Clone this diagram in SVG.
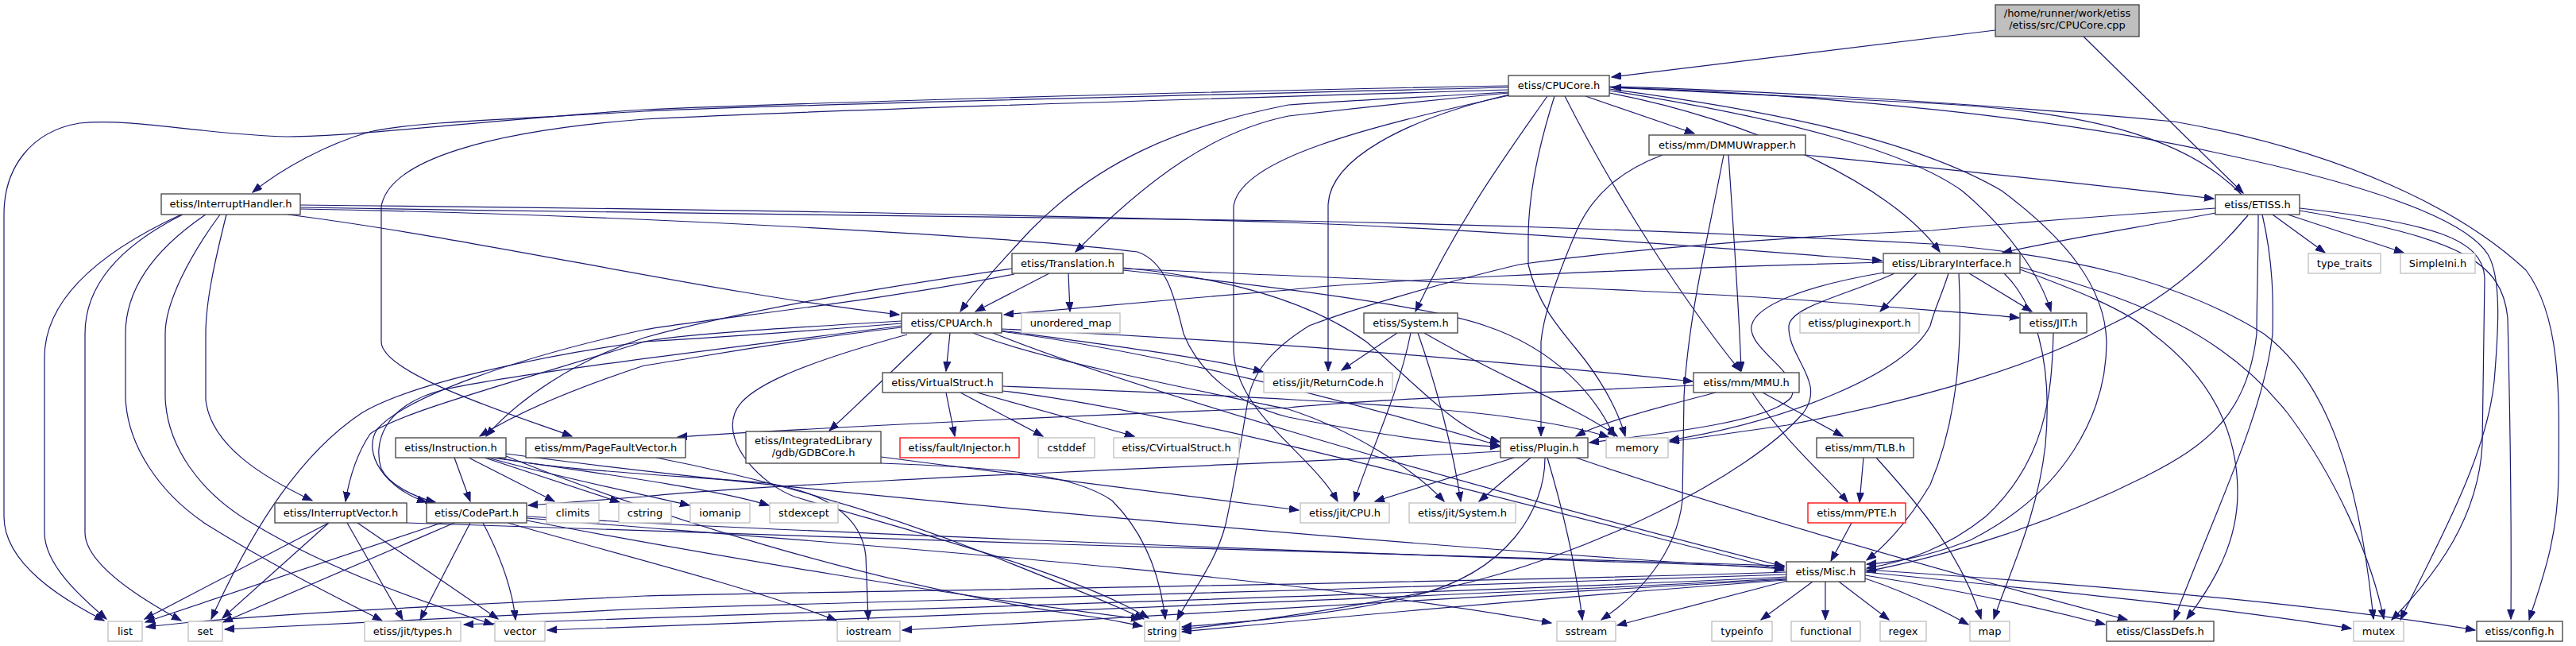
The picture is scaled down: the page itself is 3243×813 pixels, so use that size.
<svg xmlns="http://www.w3.org/2000/svg" width="3243" height="813" viewBox="0 0 3243 813">
<style>
.e{fill:none;stroke:#191970;stroke-width:1.2;marker-end:url(#a)}
.n rect{fill:#fff;stroke:#404040;stroke-width:1.3}
.g rect{fill:#fff;stroke:#bfbfbf;stroke-width:1.3}
.r rect{fill:#fff;stroke:#ff0000;stroke-width:1.3}
.s rect{fill:#bfbfbf;stroke:#404040;stroke-width:1.3}
text{font-family:"DejaVu Sans","Liberation Sans",sans-serif;font-size:13px;text-anchor:middle;fill:#000}
</style>
<defs>
<marker id="a" viewBox="0 0 13 10" markerWidth="13" markerHeight="10" refX="12" refY="4.5" orient="auto" markerUnits="userSpaceOnUse">
<path d="M0,0 L12,4.5 L0,9 z" fill="#191970" stroke="#191970" stroke-width="1"/>
</marker>
</defs>
<rect width="3243" height="813" fill="#fff"/>
<g id="edges">
<path class="e" d="M2512,38 L2029,97"/>
<path class="e" d="M2623,46 L2824,243"/>
<path class="e" d="M2822,245 C2750,170 2620,140 2432,130 C2250,120 2100,113 2029,110"/>
<path class="e" d="M1899,108 C1500,115 1000,130 811,138 C600,152 450,172 362,172 C260,170 170,148 100,155 C40,165 5,210 5,270 L5,650 C5,710 80,755 131,781"/>
<path class="e" d="M1899,110 C1500,120 1000,131 811,140 C650,150 520,153 465,166 C410,182 355,212 318,242"/>
<path class="e" d="M1899,113 C1500,125 1050,138 811,150 C620,165 490,200 480,260 L480,430 C480,470 640,520 720,549"/>
<path class="e" d="M1899,116 C1800,122 1700,126 1622,132 C1480,160 1380,205 1297,290 C1260,330 1228,365 1209,392"/>
<path class="e" d="M1899,117 C1780,128 1690,138 1622,146 C1530,165 1450,220 1354,317"/>
<path class="e" d="M1900,119 C1770,150 1672,200 1672,260 L1672,467"/>
<path class="e" d="M1900,120 C1720,160 1560,200 1553,260 L1553,440 C1555,520 1650,570 1684,631"/>
<path class="e" d="M1948,121 C1900,190 1840,270 1782,392"/>
<path class="e" d="M1957,121 C1935,190 1924,250 1924,300 L1924,333 C1935,380 1960,410 1985,440 C2010,470 2035,510 2046,549"/>
<path class="e" d="M1970,121 C2030,240 2120,380 2191,467"/>
<path class="e" d="M1996,121 L2133,168"/>
<path class="e" d="M2026,117 C2200,150 2380,230 2442,317"/>
<path class="e" d="M2026,114 C2250,150 2400,190 2470,240 C2530,290 2570,350 2582,392"/>
<path class="e" d="M2026,112 C2200,135 2400,170 2520,240 C2600,300 2650,360 2652,430 C2652,520 2600,620 2480,680 C2420,703 2380,708 2350,710"/>
<path class="e" d="M2026,109 C2300,116 2600,140 2737,153 C2950,190 3100,265 3180,340 C3225,400 3222,500 3221,600 C3220,680 3200,730 3184,780"/>
<path class="e" d="M2026,110 C2300,118 2600,150 2794,193 C2960,228 3100,270 3132,320 C3150,350 3145,420 3140,480 C3130,580 3060,700 3022,780"/>
<path class="e" d="M2273,195 C2400,208 2600,228 2787,250"/>
<path class="e" d="M2093,195 C2040,215 2005,245 1985,290 C1955,360 1943,400 1940,430 L1940,549"/>
<path class="e" d="M2170,195 C2150,300 2125,400 2120,500 L2118,630 C2110,700 2060,750 2016,780"/>
<path class="e" d="M2176,195 C2183,300 2190,400 2192,467"/>
<path class="e" d="M2789,268 C2700,285 2600,300 2521,318"/>
<path class="e" d="M2861,270 L2927,318"/>
<path class="e" d="M2880,270 L3026,318"/>
<path class="e" d="M2789,262 C2600,275 2450,288 2433,290 C2200,300 2000,320 1912,333 C1800,360 1700,390 1648,410 C1600,440 1575,470 1570,510 C1560,570 1552,620 1543,660 C1530,710 1500,745 1482,780"/>
<path class="e" d="M2830,271 C2780,330 2720,380 2654,410 C2560,460 2430,500 2250,535 C2180,545 2130,552 2102,556"/>
<path class="e" d="M2843,270 C2843,330 2841,380 2841,420 C2830,520 2780,560 2700,600 C2580,660 2450,700 2350,719"/>
<path class="e" d="M2848,270 C2862,330 2862,380 2861,420 C2850,520 2790,640 2737,780"/>
<path class="e" d="M2895,262 C3060,280 3126,300 3128,350 L3125,560 C3120,650 3070,720 3011,780"/>
<path class="e" d="M2895,265 C3100,300 3150,330 3157,400 C3160,520 3162,650 3161,779"/>
<path class="e" d="M2371,330 C2000,340 1700,355 1622,365 C1500,375 1350,388 1264,396"/>
<path class="e" d="M2372,343 C2270,360 2210,385 2205,410 C2200,440 2270,470 2255,500 C2230,530 2100,545 2001,557"/>
<path class="e" d="M2385,344 C2330,370 2255,385 2252,410 C2250,450 2300,480 2270,520 C2200,600 2000,700 1820,740 C1700,765 1600,780 1488,792"/>
<path class="e" d="M2413,344 L2367,392"/>
<path class="e" d="M2479,344 L2558,392"/>
<path class="e" d="M2453,344 C2445,370 2435,390 2430,410 C2400,470 2250,530 2102,554"/>
<path class="e" d="M2466,344 C2470,420 2468,520 2430,610 C2400,660 2370,690 2350,705"/>
<path class="e" d="M2523,344 C2560,380 2585,450 2575,560 C2565,650 2530,720 2510,779"/>
<path class="e" d="M2543,339 C2600,360 2680,390 2710,420 C2790,480 2817,550 2817,620 C2817,680 2790,730 2753,779"/>
<path class="e" d="M2543,336 C2700,380 2800,420 2880,520 C2940,600 2985,700 3001,779"/>
<path class="e" d="M2585,419 C2583,500 2575,580 2500,650 C2450,690 2400,707 2350,715"/>
<path class="e" d="M1321,344 L1228,392"/>
<path class="e" d="M1345,344 L1347,392"/>
<path class="e" d="M1274,338 C1050,370 900,400 811,425 C720,455 650,505 612,549"/>
<path class="e" d="M1277,345 C1100,380 900,400 811,415 C650,450 510,500 475,540 C455,570 485,615 537,632"/>
<path class="e" d="M1414,337 C1550,350 1650,380 1720,430 C1780,480 1830,540 1888,556"/>
<path class="e" d="M1414,338 C1800,355 2139,367 2300,380 C2420,390 2500,395 2542,400"/>
<path class="e" d="M1414,340 C1600,360 1800,385 1870,410 C1960,440 2010,500 2032,549"/>
<path class="e" d="M1135,404 C950,415 850,422 811,430 C650,480 500,520 466,546 C450,570 440,600 435,631"/>
<path class="e" d="M1135,410 C900,440 650,470 560,490 C480,510 470,560 480,590 C490,610 520,625 548,632"/>
<path class="e" d="M1135,412 C980,430 880,450 811,460 C720,490 650,520 604,549"/>
<path class="e" d="M1135,407 C1000,418 900,425 811,430 C700,445 520,480 455,520 C380,570 320,660 266,779"/>
<path class="e" d="M1173,419 C1130,460 1090,500 1044,542"/>
<path class="e" d="M1196,419 L1191,467"/>
<path class="e" d="M1142,421 C1000,460 935,490 925,520 C910,560 960,610 1000,625 C1150,670 1350,720 1446,778"/>
<path class="e" d="M1261,416 C1400,435 1520,450 1590,468"/>
<path class="e" d="M1261,414 C1500,425 1800,445 2131,480"/>
<path class="e" d="M1261,417 C1500,450 1750,520 1888,561"/>
<path class="e" d="M1225,419 C1300,450 1500,490 1622,515 C1700,540 1780,590 1818,631"/>
<path class="e" d="M1250,419 C1400,480 1800,600 2246,713"/>
<path class="e" d="M1191,494 L1202,549"/>
<path class="e" d="M1209,494 L1313,549"/>
<path class="e" d="M1230,494 L1428,549"/>
<path class="e" d="M1262,486 C1500,495 1800,510 1900,525 C1960,533 2000,542 2025,550"/>
<path class="e" d="M1262,492 C1500,520 1900,630 2246,718"/>
<path class="e" d="M1109,583 C1250,588 1350,595 1400,630 C1440,670 1460,720 1467,779"/>
<path class="e" d="M1109,575 C1300,600 1500,625 1635,642"/>
<path class="e" d="M572,576 L592,631"/>
<path class="e" d="M590,576 L698,631"/>
<path class="e" d="M610,576 L780,632"/>
<path class="e" d="M614,576 C700,600 800,620 868,636"/>
<path class="e" d="M620,576 C750,595 900,615 968,636"/>
<path class="e" d="M627,576 C700,592 850,598 966,608 C1040,620 1085,650 1090,700 L1093,780"/>
<path class="e" d="M637,574 C800,640 1100,740 1380,777 C1400,780 1420,785 1438,788"/>
<path class="e" d="M637,571 C1000,620 1800,690 2246,716"/>
<path class="e" d="M826,576 C950,600 1100,640 1250,700 C1350,740 1400,760 1440,779"/>
<path class="e" d="M2132,485 C1900,495 1700,505 1622,513 C1300,525 1000,540 853,550"/>
<path class="e" d="M2160,494 C2080,515 2020,530 1984,549"/>
<path class="e" d="M2206,494 C2250,560 2300,600 2326,632"/>
<path class="e" d="M2219,494 L2320,549"/>
<path class="e" d="M2346,576 L2341,632"/>
<path class="e" d="M2362,576 C2420,640 2470,700 2494,779"/>
<path class="e" d="M2331,658 L2305,706"/>
<path class="e" d="M1759,419 L1689,466"/>
<path class="e" d="M1776,419 C1760,500 1720,580 1705,631"/>
<path class="e" d="M1785,419 C1810,490 1830,570 1839,631"/>
<path class="e" d="M1793,419 C1880,470 1980,510 2036,549"/>
<path class="e" d="M1906,576 L1731,631"/>
<path class="e" d="M1927,576 L1862,631"/>
<path class="e" d="M1945,576 C1945,640 1900,720 1780,750 C1700,770 1600,780 1488,789"/>
<path class="e" d="M1948,576 C1970,650 1985,720 1992,780"/>
<path class="e" d="M1984,576 C2200,650 2450,720 2678,780"/>
<path class="e" d="M1889,568 C1700,580 1000,605 811,625 C750,630 700,633 665,636"/>
<path class="e" d="M228,270 C120,320 56,380 56,450 L56,670 C56,710 100,750 134,779"/>
<path class="e" d="M230,270 C150,310 107,360 107,420 L107,670 C107,710 180,755 228,781"/>
<path class="e" d="M259,270 C200,310 158,360 158,420 L158,500 C160,560 200,620 260,660 C340,710 420,750 481,781"/>
<path class="e" d="M277,270 C240,320 208,380 208,420 L208,500 C210,560 250,620 320,660 C420,720 540,760 621,786"/>
<path class="e" d="M285,270 C270,330 259,380 259,420 L259,503 C265,560 330,600 393,630"/>
<path class="e" d="M362,270 C600,300 900,370 1132,396"/>
<path class="e" d="M378,258 C800,262 1300,270 1622,280 C1900,290 2200,315 2369,328"/>
<path class="e" d="M378,261 C900,270 1500,276 1622,278 C2000,285 2300,300 2432,307 C2600,320 2742,353 2850,420 C2930,480 2970,600 2988,779"/>
<path class="e" d="M378,263 C800,270 1300,300 1432,317 C1470,330 1480,380 1490,420 C1510,470 1560,510 1622,525 C1750,550 1830,560 1888,562"/>
<path class="e" d="M414,658 L182,779"/>
<path class="e" d="M414,658 L280,778"/>
<path class="e" d="M437,658 L507,780"/>
<path class="e" d="M450,658 L627,779"/>
<path class="e" d="M512,658 C1000,675 1800,700 2246,712"/>
<path class="e" d="M556,658 L183,783"/>
<path class="e" d="M572,658 L281,783"/>
<path class="e" d="M592,658 L529,780"/>
<path class="e" d="M608,658 C630,700 645,740 649,780"/>
<path class="e" d="M639,658 C750,690 950,740 1053,781"/>
<path class="e" d="M663,655 C900,700 1200,750 1436,779"/>
<path class="e" d="M663,652 C1000,680 1600,720 1953,784"/>
<path class="e" d="M663,650 C1000,670 1800,700 2246,714"/>
<path class="e" d="M2249,720 C1800,735 1000,745 811,750 C500,765 300,775 184,789"/>
<path class="e" d="M2249,723 C1800,740 1000,760 811,766 C600,775 400,785 283,792"/>
<path class="e" d="M2249,726 C1800,748 1000,770 584,786"/>
<path class="e" d="M2249,728 C1800,752 1100,778 689,793"/>
<path class="e" d="M2249,729 C1900,748 1500,773 1136,793"/>
<path class="e" d="M2249,730 C2000,748 1700,775 1488,795"/>
<path class="e" d="M2250,731 L2036,787"/>
<path class="e" d="M2282,732 L2217,780"/>
<path class="e" d="M2298,732 L2298,780"/>
<path class="e" d="M2315,732 L2378,780"/>
<path class="e" d="M2348,728 C2400,745 2440,765 2478,786"/>
<path class="e" d="M2348,724 C2450,740 2550,760 2650,786"/>
<path class="e" d="M2348,720 C2600,745 2800,765 2960,791"/>
<path class="e" d="M2348,717 C2700,740 2950,765 3116,793"/>
</g>
<g id="n_src" class="s"><rect x="2512" y="6" width="181" height="40"/><text x="2602.5" y="21">/home/runner/work/etiss</text><text x="2602.5" y="36">/etiss/src/CPUCore.cpp</text></g>
<g id="n_cpucore" class="n"><rect x="1899" y="95" width="127" height="26"/><text x="1962.5" y="112">etiss/CPUCore.h</text></g>
<g id="n_interrupthandler" class="n"><rect x="203" y="244" width="175" height="26"/><text x="290.5" y="261">etiss/InterruptHandler.h</text></g>
<g id="n_translation" class="n"><rect x="1274" y="319" width="140" height="25"/><text x="1344" y="336">etiss/Translation.h</text></g>
<g id="n_cpuarch" class="n"><rect x="1135" y="394" width="126" height="25"/><text x="1198" y="411">etiss/CPUArch.h</text></g>
<g id="n_unordered_map" class="g"><rect x="1286" y="394" width="124" height="25"/><text x="1348" y="411">unordered_map</text></g>
<g id="n_system" class="n"><rect x="1717" y="394" width="118" height="25"/><text x="1776" y="411">etiss/System.h</text></g>
<g id="n_dmmuwrapper" class="n"><rect x="2076" y="170" width="197" height="25"/><text x="2174.5" y="187">etiss/mm/DMMUWrapper.h</text></g>
<g id="n_etiss" class="n"><rect x="2789" y="245" width="106" height="25"/><text x="2842" y="262">etiss/ETISS.h</text></g>
<g id="n_libraryinterface" class="n"><rect x="2371" y="319" width="172" height="25"/><text x="2457" y="336">etiss/LibraryInterface.h</text></g>
<g id="n_type_traits" class="g"><rect x="2906" y="319" width="91" height="25"/><text x="2951.5" y="336">type_traits</text></g>
<g id="n_simpleini" class="g"><rect x="3022" y="319" width="94" height="25"/><text x="3069" y="336">SimpleIni.h</text></g>
<g id="n_pluginexport" class="g"><rect x="2266" y="394" width="150" height="25"/><text x="2341" y="411">etiss/pluginexport.h</text></g>
<g id="n_jit" class="n"><rect x="2543" y="394" width="84" height="25"/><text x="2585" y="411">etiss/JIT.h</text></g>
<g id="n_returncode" class="g"><rect x="1591" y="469" width="162" height="25"/><text x="1672" y="486">etiss/jit/ReturnCode.h</text></g>
<g id="n_virtualstruct" class="n"><rect x="1111" y="469" width="151" height="25"/><text x="1186.5" y="486">etiss/VirtualStruct.h</text></g>
<g id="n_mmu" class="n"><rect x="2132" y="469" width="133" height="25"/><text x="2198.5" y="486">etiss/mm/MMU.h</text></g>
<g id="n_instruction" class="n"><rect x="498" y="551" width="139" height="25"/><text x="567.5" y="568">etiss/Instruction.h</text></g>
<g id="n_pagefaultvector" class="n"><rect x="662" y="551" width="201" height="25"/><text x="762.5" y="568">etiss/mm/PageFaultVector.h</text></g>
<g id="n_gdbcore" class="n"><rect x="939" y="543" width="170" height="40"/><text x="1024" y="559">etiss/IntegratedLibrary</text><text x="1024" y="574">/gdb/GDBCore.h</text></g>
<g id="n_injector" class="r"><rect x="1133" y="551" width="150" height="25"/><text x="1208" y="568">etiss/fault/Injector.h</text></g>
<g id="n_cstddef" class="g"><rect x="1307" y="551" width="71" height="25"/><text x="1342.5" y="568">cstddef</text></g>
<g id="n_cvirtualstruct" class="g"><rect x="1402" y="551" width="158" height="25"/><text x="1481" y="568">etiss/CVirtualStruct.h</text></g>
<g id="n_plugin" class="n"><rect x="1889" y="551" width="110" height="25"/><text x="1944" y="568">etiss/Plugin.h</text></g>
<g id="n_memory" class="g"><rect x="2022" y="551" width="78" height="25"/><text x="2061" y="568">memory</text></g>
<g id="n_tlb" class="n"><rect x="2287" y="551" width="122" height="25"/><text x="2348" y="568">etiss/mm/TLB.h</text></g>
<g id="n_interruptvector" class="n"><rect x="346" y="633" width="166" height="25"/><text x="429" y="650">etiss/InterruptVector.h</text></g>
<g id="n_codepart" class="n"><rect x="537" y="633" width="126" height="25"/><text x="600" y="650">etiss/CodePart.h</text></g>
<g id="n_climits" class="g"><rect x="688" y="633" width="66" height="25"/><text x="721" y="650">climits</text></g>
<g id="n_cstring" class="g"><rect x="779" y="633" width="66" height="25"/><text x="812" y="650">cstring</text></g>
<g id="n_iomanip" class="g"><rect x="869" y="633" width="75" height="25"/><text x="906.5" y="650">iomanip</text></g>
<g id="n_stdexcept" class="g"><rect x="969" y="633" width="86" height="25"/><text x="1012" y="650">stdexcept</text></g>
<g id="n_jitcpu" class="g"><rect x="1637" y="633" width="112" height="25"/><text x="1693" y="650">etiss/jit/CPU.h</text></g>
<g id="n_jitsystem" class="g"><rect x="1774" y="633" width="134" height="25"/><text x="1841" y="650">etiss/jit/System.h</text></g>
<g id="n_pte" class="r"><rect x="2276" y="633" width="123" height="25"/><text x="2337.5" y="650">etiss/mm/PTE.h</text></g>
<g id="n_misc" class="n"><rect x="2249" y="707" width="99" height="25"/><text x="2298.5" y="724">etiss/Misc.h</text></g>
<g id="n_list" class="g"><rect x="136" y="782" width="43" height="25"/><text x="157.5" y="799">list</text></g>
<g id="n_set" class="g"><rect x="237" y="782" width="43" height="25"/><text x="258.5" y="799">set</text></g>
<g id="n_jittypes" class="g"><rect x="459" y="782" width="121" height="25"/><text x="519.5" y="799">etiss/jit/types.h</text></g>
<g id="n_vector" class="g"><rect x="623" y="782" width="63" height="25"/><text x="654.5" y="799">vector</text></g>
<g id="n_iostream" class="g"><rect x="1054" y="782" width="79" height="25"/><text x="1093.5" y="799">iostream</text></g>
<g id="n_string" class="g"><rect x="1441" y="782" width="44" height="25"/><text x="1463" y="799">string</text></g>
<g id="n_sstream" class="g"><rect x="1960" y="782" width="74" height="25"/><text x="1997" y="799">sstream</text></g>
<g id="n_typeinfo" class="g"><rect x="2155" y="782" width="76" height="25"/><text x="2193" y="799">typeinfo</text></g>
<g id="n_functional" class="g"><rect x="2255" y="782" width="87" height="25"/><text x="2298.5" y="799">functional</text></g>
<g id="n_regex" class="g"><rect x="2367" y="782" width="58" height="25"/><text x="2396" y="799">regex</text></g>
<g id="n_map" class="g"><rect x="2480" y="782" width="50" height="25"/><text x="2505" y="799">map</text></g>
<g id="n_classdefs" class="n"><rect x="2652" y="782" width="135" height="25"/><text x="2719.5" y="799">etiss/ClassDefs.h</text></g>
<g id="n_mutex" class="g"><rect x="2963" y="782" width="63" height="25"/><text x="2994.5" y="799">mutex</text></g>
<g id="n_config" class="n"><rect x="3118" y="782" width="108" height="25"/><text x="3172" y="799">etiss/config.h</text></g>
</svg>
